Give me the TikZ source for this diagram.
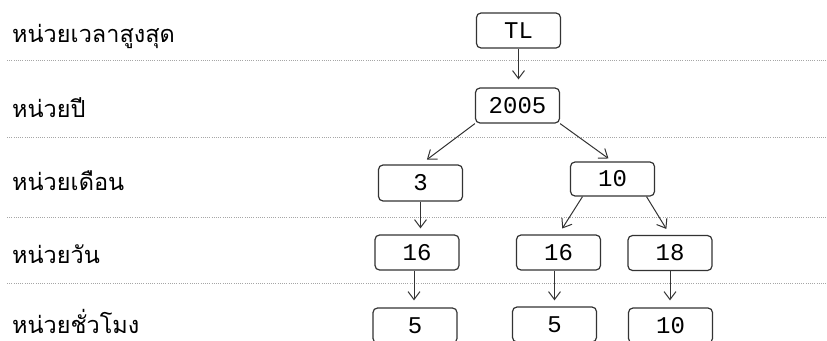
\documentclass[tikz,border=0pt]{standalone}
\usepackage{fontspec}
\newfontfamily\thaifont[Script=Thai]{Loma}
\newfontfamily\codefont{Liberation Mono}
\usetikzlibrary{arrows.meta}
\definecolor{ink}{HTML}{333333}
\tikzset{
  levelname/.style={anchor=base west, inner sep=0pt, text depth=0pt,
    font=\thaifont\fontsize{23.5}{24}\selectfont},
  valbox/.style={draw=ink, line width=1.2pt, rounded corners=4.5pt, minimum width=84pt,
    minimum height=35pt, inner sep=0pt, font=\codefont\fontsize{24}{24}\selectfont},
  divider/.style={draw=gray!70, line width=0.8pt, dash pattern=on 1pt off 1.2pt},
  link/.style={draw=ink, line width=1pt, -{Straight Barb[length=8pt,width=12pt,line width=1pt]}}
}
\begin{document}
\begin{tikzpicture}[x=1pt,y=-1pt]
  \clip (0,0) rectangle (827,340);
  \useasboundingbox (0,0) rectangle (827,340);

  % level names
  \node[levelname] (l1) at (12,42)  {หน่วยเวลาสูงสุด};
  \node[levelname] (l2) at (12,117) {หน่วยปี};
  \node[levelname] (l3) at (12,190) {หน่วยเดือน};
  \node[levelname] (l4) at (12,263) {หน่วยวัน};
  \node[levelname] (l5) at (12,333) {หน่วยชั่วโมง};

  % dotted separators between levels
  \draw[divider] (7,60)  -- (827,60);
  \draw[divider] (7,137) -- (827,137);
  \draw[divider] (7,217) -- (827,217);
  \draw[divider] (7,283) -- (827,283);

  % value boxes
  \node[valbox] (tl)  at (518.5,30.5) {TL};
  \node[valbox] (yr)  at (517.5,105.5) {2005};
  \node[valbox, minimum height=36pt] (m3)  at (420.5,183) {3};
  \node[valbox, minimum height=34pt] (m10) at (612.5,179) {10};
  \node[valbox] (d16a) at (417,252.5) {16};
  \node[valbox] (d16b) at (558.5,252.5) {16};
  \node[valbox] (d18)  at (670,253) {18};
  \node[valbox] (h5a)  at (415,325.5) {5};
  \node[valbox] (h5b)  at (554.5,324.5) {5};
  \node[valbox] (h10)  at (670.5,325.5) {10};

  % connectors
  \draw[link, shorten >=8pt] (tl.south) -- (tl.south |- yr.north);
  \draw[link, shorten >=8pt] (yr.south west) -- (m3.north);
  \draw[link, shorten >=5pt] (yr.south east) -- (m10.north);
  \draw[link, shorten >=6pt] (m3.south) -- (m3.south |- d16a.north);
  \draw[link, shorten >=7pt] ([xshift=-30pt]m10.south) -- (d16b.north);
  \draw[link, shorten >=7pt] ([xshift=34pt]m10.south) -- (d18.north);
  \draw[link, shorten >=7pt] ([xshift=-3pt]d16a.south) -- ([xshift=-3pt]d16a.south |- h5a.north);
  \draw[link, shorten >=6pt] ([xshift=-4pt]d16b.south) -- ([xshift=-4pt]d16b.south |- h5b.north);
  \draw[link, shorten >=7pt] (d18.south) -- (d18.south |- h10.north);
\end{tikzpicture}
\end{document}
